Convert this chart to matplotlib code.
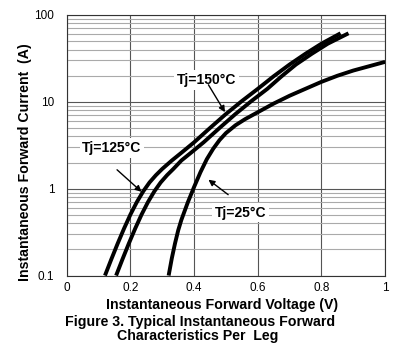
import matplotlib
matplotlib.use("Agg")
import matplotlib.pyplot as plt
from matplotlib.ticker import FixedLocator, NullFormatter, LogLocator

plt.rcParams['font.family'] = ['Liberation Sans', 'DejaVu Sans']

# Tj = 150 C
v150 = [0.12, 0.14, 0.16, 0.18, 0.20, 0.22, 0.24, 0.26, 0.28, 0.30, 0.33, 0.36, 0.40,
        0.45, 0.50, 0.55, 0.60, 0.65, 0.70, 0.75, 0.80, 0.86]
i150 = [0.1, 0.154, 0.234, 0.348, 0.504, 0.70, 0.93, 1.18, 1.43, 1.69, 2.11, 2.59, 3.42,
        5.0, 7.24, 10.2, 14.1, 19.7, 26.9, 35.8, 46.7, 61.5]
# Tj = 125 C
v125 = [0.155, 0.175, 0.195, 0.215, 0.235, 0.255, 0.275, 0.295, 0.315, 0.335, 0.36, 0.39,
        0.43, 0.48, 0.53, 0.58, 0.63, 0.675, 0.72, 0.77, 0.82, 0.885]
i125 = [0.1, 0.154, 0.234, 0.348, 0.504, 0.70, 0.93, 1.18, 1.43, 1.69, 2.11, 2.59,
        3.42, 5.0, 7.24, 10.2, 14.1, 19.7, 26.9, 35.8, 46.7, 61.5]
# Tj = 25 C
v25 = [0.32, 0.33, 0.34, 0.35, 0.36, 0.38, 0.40, 0.42, 0.44, 0.46, 0.48, 0.50, 0.53,
       0.56, 0.60, 0.65, 0.70, 0.75, 0.80, 0.85, 0.90, 0.95, 1.00]
i25 = [0.1, 0.158, 0.234, 0.331, 0.437, 0.692, 1.047, 1.549, 2.188, 2.884, 3.631, 4.365, 5.370,
       6.310, 7.586, 9.550, 11.75, 14.13, 16.98, 19.95, 22.91, 25.70, 28.84]

xticks = [0, 0.2, 0.4, 0.6, 0.8, 1]
xticklabels = ['0', '0.2', '0.4', '0.6', '0.8', '1']
yticks = [0.1, 1, 10, 100]
yticklabels = ['0.1', '1', '10', '100']

fig = plt.figure(figsize=(3.95, 3.56), dpi=100)
ax = fig.add_axes([0.169, 0.226, 0.806, 0.732])
ax.set_yscale('log')
ax.set_xlim(0, 1)
ax.set_ylim(0.1, 100)

ax.xaxis.set_major_locator(FixedLocator(xticks))
ax.set_xticklabels(xticklabels)
ax.yaxis.set_major_locator(FixedLocator(yticks))
ax.set_yticklabels(yticklabels)
ax.yaxis.set_minor_locator(LogLocator(base=10, subs=range(2, 10)))
ax.yaxis.set_minor_formatter(NullFormatter())
ax.tick_params(which='both', length=0, labelsize=8.5)
ax.tick_params(axis='y', pad=9)
ax.tick_params(axis='x', pad=5)

ax.grid(True, which='major', axis='both', color='#555555', lw=0.8)
ax.grid(True, which='minor', axis='y', color='#aaaaaa', lw=0.8)
ax.set_axisbelow(True)
for s in ax.spines.values():
    s.set_color('#333333')
    s.set_linewidth(0.8)

for v, i in [(v150, i150), (v125, i125), (v25, i25)]:
    ax.plot(v, i, color='black', lw=2.8, solid_capstyle='butt', solid_joinstyle='round', zorder=3)

box = dict(facecolor='white', edgecolor='none', pad=2)
arrow = dict(arrowstyle='-|>', color='black', lw=1.0, mutation_scale=9, shrinkA=0, shrinkB=0)

ax.text(0.438, 17.9, 'Tj=150°C', ha='center', va='center',
        fontsize=10, fontweight='bold', bbox=box, zorder=5)
ax.annotate('', xy=(0.497, 7.6), xytext=(0.445, 15.7), arrowprops=arrow, zorder=6)
ax.text(0.142, 2.96, 'Tj=125°C', ha='center', va='center',
        fontsize=10, fontweight='bold', bbox=box, zorder=5)
ax.annotate('', xy=(0.235, 0.92), xytext=(0.158, 1.65), arrowprops=arrow, zorder=6)
ax.text(0.545, 0.53, 'Tj=25°C', ha='center', va='center',
        fontsize=10, fontweight='bold', bbox=box, zorder=5)
ax.annotate('', xy=(0.445, 1.27), xytext=(0.507, 0.853), arrowprops=arrow, zorder=6)

ax.set_xlabel('Instantaneous Forward Voltage (V)', fontsize=10.2, fontweight='bold', va='center')
ax.xaxis.set_label_coords(0.488, -0.114)
ax.set_ylabel('Instantaneous Forward Current  (A)', fontsize=10.2, fontweight='bold', va='center')
ax.yaxis.set_label_coords(-0.131, 0.435)

fig.text(0.506, 0.095, 'Figure 3. Typical Instantaneous Forward', ha='center', va='center',
         fontsize=10.2, fontweight='bold')
fig.text(0.501, 0.057, 'Characteristics Per  Leg', ha='center', va='center',
         fontsize=10.2, fontweight='bold')

fig.savefig('out.png', dpi=100)
